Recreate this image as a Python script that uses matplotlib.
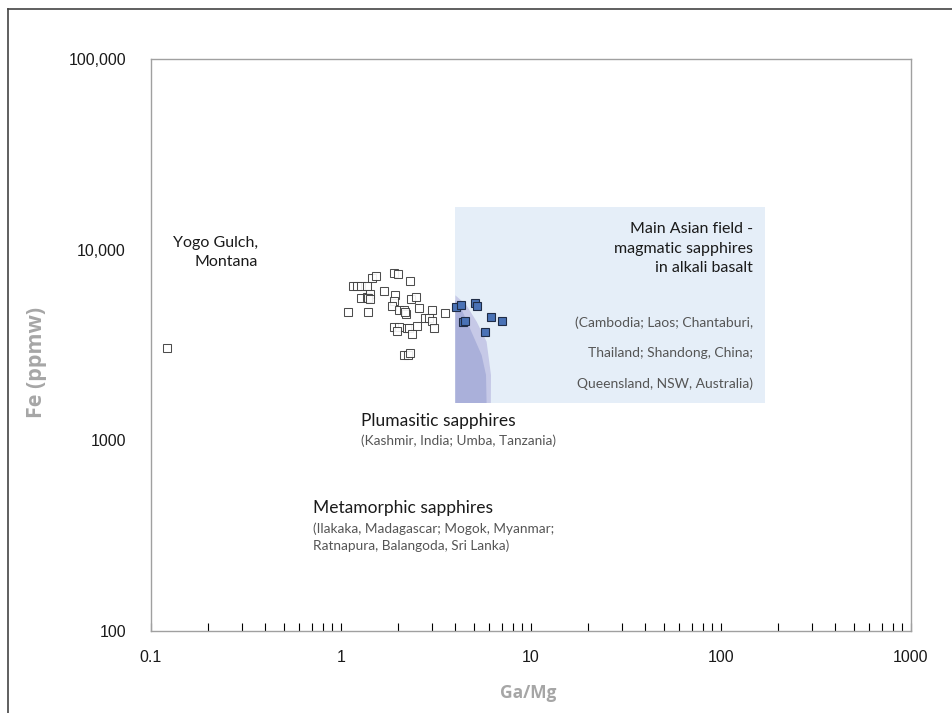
import numpy as np
import matplotlib
matplotlib.use("Agg")
import matplotlib.pyplot as plt
from matplotlib.patches import Polygon, Rectangle
from matplotlib.lines import Line2D
from matplotlib.ticker import LogLocator, FixedLocator, FixedFormatter, NullFormatter

# ---------------------------------------------------------------
# data : Ga/Mg vs Fe (ppmw)
# ---------------------------------------------------------------

# Yogo Gulch, Montana (open squares)
yogo_gamg = [0.122, 1.09, 1.39, 1.16, 1.22, 1.28, 1.37, 1.45, 1.52, 1.90, 1.99,
             2.30, 1.68, 1.27, 1.37, 1.43, 1.39, 1.43, 1.92, 1.90, 1.85,
             2.34, 2.47, 2.03, 2.15, 2.20, 2.18, 2.58, 3.01, 3.54, 2.78,
             2.89, 3.01, 2.50, 3.08, 1.91, 2.02, 1.98, 2.23, 2.27, 2.36,
             2.15, 2.25, 2.31]
yogo_fe = [3060, 4720, 4720, 6440, 6440, 6440, 6440, 7070, 7250, 7510, 7420,
           6820, 6040, 5600, 5660, 5830, 5550, 5480, 5760, 5380, 5080,
           5480, 5620, 4820, 4820, 4580, 4720, 4920, 4800, 4630, 4360,
           4360, 4220, 3990, 3880, 3910, 3910, 3730, 3890, 3890, 3620,
           2810, 2800, 2880]

# samples falling inside the magmatic field (filled squares)
mag_gamg = [4.03, 4.28, 5.08, 5.20, 6.16, 7.04, 4.40, 4.49, 5.73]
mag_fe = [5020, 5100, 5270, 5040, 4450, 4220, 4190, 4240, 3710]

# Main Asian field box (Ga/Mg range, Fe range)
asian_gamg = [4.0, 170.0]
asian_fe = [1570, 16700]

# overlap fields at the left edge of the box (outline)
plum_gamg = [4.0, 4.55, 5.18, 5.84, 6.16, 6.15, 4.0]
plum_fe = [5760, 5150, 4190, 3290, 2200, 1570, 1570]
meta_gamg = [4.0, 4.33, 4.77, 5.50, 5.80, 5.84, 4.0]
meta_fe = [5440, 4820, 3870, 2800, 2200, 1570, 1570]

x_ticks = [0.1, 1, 10, 100, 1000]
x_ticklabels = ["0.1", "1", "10", "100", "1000"]
y_ticks = [100, 1000, 10000, 100000]
y_ticklabels = ["100", "1000", "10,000", "100,000"]

TEXT_FONT = "Lato"
TICK_FONT = "Liberation Sans"

#---------------------------------------------------------------
# figure
#---------------------------------------------------------------
fig = plt.figure(figsize=(9.53, 7.13), dpi=100)
ax = fig.add_axes([0.1584, 0.115, 0.7975, 0.8023])

ax.set_xscale("log")
ax.set_yscale("log")
ax.set_xlim(0.1, 1000)
ax.set_ylim(100, 100000)

# field shading
ax.add_patch(Rectangle((asian_gamg[0], asian_fe[0]),
                       asian_gamg[1] - asian_gamg[0], asian_fe[1] - asian_fe[0],
                       facecolor="#e5eef8", edgecolor="none", zorder=0))
ax.add_patch(Polygon(np.column_stack([plum_gamg, plum_fe]), closed=True,
                     facecolor="#c6c9e7", edgecolor="none", zorder=1))
ax.add_patch(Polygon(np.column_stack([meta_gamg, meta_fe]), closed=True,
                     facecolor="#aab0da", edgecolor="none", zorder=1))

# samples
ax.plot(yogo_gamg, yogo_fe, linestyle="none", marker="s", markersize=5.6,
        markerfacecolor="white", markeredgecolor="#3a3a3a", markeredgewidth=0.75,
        alpha=0.9, zorder=3)
ax.plot(mag_gamg, mag_fe, linestyle="none", marker="s", markersize=5.6,
        markerfacecolor="#4a72b6", markeredgecolor="#1f2c46", markeredgewidth=0.8,
        zorder=4)

# axes style
for s in ax.spines.values():
    s.set_color("#a0a0a0")
    s.set_linewidth(1.0)

ax.xaxis.set_major_locator(FixedLocator(x_ticks))
ax.xaxis.set_major_formatter(FixedFormatter(x_ticklabels))
ax.xaxis.set_minor_locator(LogLocator(base=10, subs=np.arange(2, 10)))
ax.xaxis.set_minor_formatter(NullFormatter())
ax.yaxis.set_major_locator(FixedLocator(y_ticks))
ax.yaxis.set_major_formatter(FixedFormatter(y_ticklabels))
ax.yaxis.set_minor_locator(FixedLocator([]))

ax.tick_params(axis="x", which="both", direction="in", length=6, width=0.8,
               color="black", pad=14, labelsize=11.5)
ax.tick_params(axis="y", which="both", length=0, pad=18, labelsize=11.5)
for lab in ax.get_xticklabels() + ax.get_yticklabels():
    lab.set_fontfamily(TICK_FONT)
    lab.set_color("#1a1a1a")

ax.set_xlabel("Ga/Mg", fontfamily="Open Sans", fontweight="bold",
              fontsize=12.5, color="#a6a6a6")
ax.set_ylabel("Fe (ppmw)", fontfamily="Open Sans", fontweight="bold",
              fontsize=15.5, color="#a6a6a6")
ax.xaxis.set_label_coords(0.496, -0.092)
ax.yaxis.set_label_coords(-0.137, 0.47)

#---------------------------------------------------------------
# annotations
#---------------------------------------------------------------
ax.text(0.365, 11800, "Yogo Gulch,\nMontana", ha="right", va="top",
        multialignment="right", fontfamily=TEXT_FONT, fontsize=11.5,
        color="#1a1a1a", linespacing=1.5, zorder=5)

ax.text(147, 13960, "Main Asian field -\nmagmatic sapphires\nin alkali basalt",
        ha="right", va="top", multialignment="right", fontfamily=TEXT_FONT,
        fontsize=11.5, color="#1a1a1a", linespacing=1.5, zorder=5)
ax.text(147, 2870, "(Cambodia; Laos; Chantaburi,\nThailand; Shandong, China;\n"
        "Queensland, NSW, Australia)", ha="right", va="center",
        multialignment="right", fontfamily=TEXT_FONT, fontsize=10,
        color="#555555", linespacing=2.75, zorder=5)

ax.text(1.27, 1262, "Plumasitic sapphires", ha="left", va="center",
        fontfamily=TEXT_FONT, fontsize=12.5, color="#1a1a1a", zorder=5)
ax.text(1.27, 991, "(Kashmir, India; Umba, Tanzania)", ha="left", va="center",
        fontfamily=TEXT_FONT, fontsize=9.8, color="#555555", zorder=5)

ax.text(0.713, 442, "Metamorphic sapphires", ha="left", va="center",
        fontfamily=TEXT_FONT, fontsize=12.5, color="#1a1a1a", zorder=5)
ax.text(0.713, 310, "(Ilakaka, Madagascar; Mogok, Myanmar;\nRatnapura, Balangoda, Sri Lanka)",
        ha="left", va="center", fontfamily=TEXT_FONT, fontsize=9.8,
        color="#555555", linespacing=1.5, zorder=5)

# page frame
fig.add_artist(Line2D([8.5 / 953, 8.5 / 953], [0, 1 - 8.5 / 713],
                      transform=fig.transFigure, color="#444444", linewidth=1.2))
fig.add_artist(Line2D([8.5 / 953, 1], [1 - 8.5 / 713, 1 - 8.5 / 713],
                      transform=fig.transFigure, color="#444444", linewidth=1.2))

fig.savefig("out.png", dpi=100)
